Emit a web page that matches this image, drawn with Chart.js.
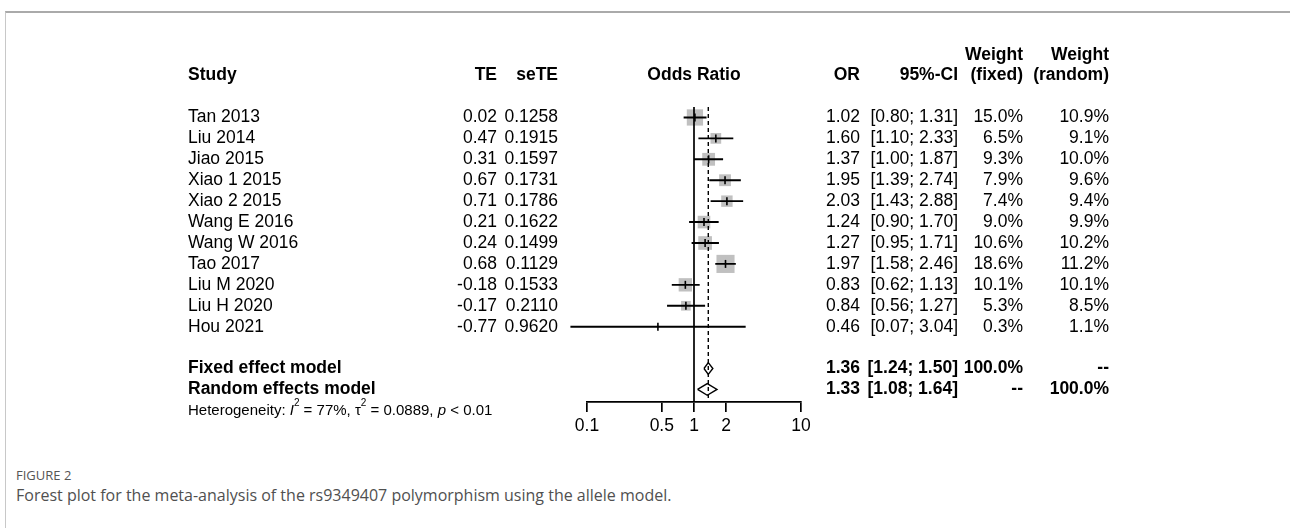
<!DOCTYPE html>
<html>
<head>
<meta charset="utf-8">
<script src="https://cdn.jsdelivr.net/npm/chart.js@4.4.0/dist/chart.umd.min.js"></script>
<style>
  html, body { margin: 0; padding: 0; background: #fff; }
  #page { position: relative; width: 1290px; height: 528px; overflow: hidden; }
  #frame { position: absolute; left: 5px; top: 11px; right: 0; bottom: 0; border-top: 2px solid #aaa; border-left: 1px solid #c8c8c8; }
  #plotBox { position: absolute; left: 0; top: 0; width: 1290px; height: 460px; }
  #figLabel { position: absolute; left: 16px; top: 466px; font: 13px "Open Sans", Lato, sans-serif; color: #555; }
  #caption { position: absolute; left: 16px; top: 484px; font: 16px "Open Sans", Lato, sans-serif; color: #505050; }
</style>
</head>
<body>
<div id="page">
  <div id="frame"></div>
  <div id="plotBox"><canvas id="forest"></canvas></div>
  <div id="figLabel">FIGURE 2</div>
  <div id="caption">Forest plot for the meta-analysis of the rs9349407 polymorphism using the allele model.</div>
</div>
<script>
// study data
const studies = ['Tan 2013', 'Liu 2014', 'Jiao 2015', 'Xiao 1 2015', 'Xiao 2 2015', 'Wang E 2016',
                 'Wang W 2016', 'Tao 2017', 'Liu M 2020', 'Liu H 2020', 'Hou 2021'];
const te = [0.02, 0.47, 0.31, 0.67, 0.71, 0.21, 0.24, 0.68, -0.18, -0.17, -0.77];
const seTE = [0.1258, 0.1915, 0.1597, 0.1731, 0.1786, 0.1622, 0.1499, 0.1129, 0.1533, 0.2110, 0.9620];
const oddsRatio = [1.02, 1.60, 1.37, 1.95, 2.03, 1.24, 1.27, 1.97, 0.83, 0.84, 0.46];
const ciLower = [0.80, 1.10, 1.00, 1.39, 1.43, 0.90, 0.95, 1.58, 0.62, 0.56, 0.07];
const ciUpper = [1.31, 2.33, 1.87, 2.74, 2.88, 1.70, 1.71, 2.46, 1.13, 1.27, 3.04];
const weightFixed = [15.0, 6.5, 9.3, 7.9, 7.4, 9.0, 10.6, 18.6, 10.1, 5.3, 0.3];
const weightRandom = [10.9, 9.1, 10.0, 9.6, 9.4, 9.9, 10.2, 11.2, 10.1, 8.5, 1.1];

// pooled models
const models = ['Fixed effect model', 'Random effects model'];
const modelOR = [1.36, 1.33];
const modelLower = [1.24, 1.08];
const modelUpper = [1.50, 1.64];
const modelWeightFixed = ['100.0%', '--'];
const modelWeightRandom = ['--', '100.0%'];

const tickValues = [0.1, 0.5, 1, 2, 10];
const tickLabels = ['0.1', '0.5', '1', '2', '10'];
const hetI2 = '77%';
const hetTau2 = '0.0889';
const hetP = '< 0.01';

// row positions on the y scale (1 = first study)
const studyRow = studies.map((s, i) => i + 1);
const modelRow = [studies.length + 2, studies.length + 3];
const rowTop = 0.5, rowBottom = 14.6;

const FONT = '"Liberation Sans", Arial, sans-serif';
const FS = 17.5;

// columns (pixel x, text alignment)
const col = { study: 188, te: 497, se: 558, plotMid: 694, or: 860, ci: 958, wf: 1023, wr: 1109 };

function fmtCI(lo, hi) {
  return '[' + lo.toFixed(2) + '; ' + hi.toFixed(2) + ']';
}

// CI segments separated by gaps
const ciData = [];
studies.forEach(function(s, i) {
  ciData.push({x: ciLower[i], y: studyRow[i]}, {x: ciUpper[i], y: studyRow[i]}, {x: null, y: null});
});

function diamond(k) {
  const h = 0.28;
  const r = modelRow[k];
  return [
    {x: modelLower[k], y: r}, {x: modelOR[k], y: r - h},
    {x: modelUpper[k], y: r}, {x: modelOR[k], y: r + h},
    {x: modelLower[k], y: r}
  ];
}

const textPlugin = {
  id: 'forestText',
  afterDraw(chart) {
    const ctx = chart.ctx;
    const yS = chart.scales.y;
    const rowY = r => yS.getPixelForValue(r);
    ctx.save();
    ctx.fillStyle = '#000';
    ctx.textBaseline = 'middle';

    function put(txt, x, y, align, bold) {
      ctx.font = (bold ? 'bold ' : '') + FS + 'px ' + FONT;
      ctx.textAlign = align;
      ctx.fillText(txt, x, y);
    }

    // headers
    const h1 = rowY(-2), h2 = rowY(-1);
    put('Weight', col.wf, h1, 'right', true);
    put('Weight', col.wr, h1, 'right', true);
    put('Study', col.study, h2, 'left', true);
    put('TE', col.te, h2, 'right', true);
    put('seTE', col.se, h2, 'right', true);
    put('Odds Ratio', col.plotMid, h2, 'center', true);
    put('OR', col.or, h2, 'right', true);
    put('95%-CI', col.ci, h2, 'right', true);
    put('(fixed)', col.wf, h2, 'right', true);
    put('(random)', col.wr, h2, 'right', true);

    // study rows
    studies.forEach(function(s, i) {
      const y = rowY(studyRow[i]);
      put(s, col.study, y, 'left', false);
      put(te[i].toFixed(2), col.te, y, 'right', false);
      put(seTE[i].toFixed(4), col.se, y, 'right', false);
      put(oddsRatio[i].toFixed(2), col.or, y, 'right', false);
      put(fmtCI(ciLower[i], ciUpper[i]), col.ci, y, 'right', false);
      put(weightFixed[i].toFixed(1) + '%', col.wf, y, 'right', false);
      put(weightRandom[i].toFixed(1) + '%', col.wr, y, 'right', false);
    });

    // model rows
    models.forEach(function(m, k) {
      const y = rowY(modelRow[k]);
      put(m, col.study, y, 'left', true);
      put(modelOR[k].toFixed(2), col.or, y, 'right', true);
      put(fmtCI(modelLower[k], modelUpper[k]), col.ci, y, 'right', true);
      put(modelWeightFixed[k], col.wf, y, 'right', true);
      put(modelWeightRandom[k], col.wr, y, 'right', true);
    });

    // heterogeneity line with superscripts
    const hy = rowY(modelRow[1] + 1);
    const hs = 15;
    let x = col.study;
    ctx.textAlign = 'left';
    function seg(txt, style, size, dy) {
      ctx.font = style + size + 'px ' + FONT;
      ctx.fillText(txt, x, hy + (dy || 0));
      x += ctx.measureText(txt).width;
    }
    seg('Heterogeneity: ', '', hs);
    seg('I', 'italic ', hs);
    seg('2', '', 10, -7);
    seg(' = ' + hetI2 + ', ', '', hs);
    seg('\u03c4', '', hs);
    seg('2', '', 10, -7);
    seg(' = ' + hetTau2 + ', ', '', hs);
    seg('p', 'italic ', hs);
    seg(' ' + hetP, '', hs);
    ctx.restore();
  }
};

const ctx = document.getElementById('forest').getContext('2d');
const chart = new Chart(ctx, {
  type: 'scatter',
  data: {
    datasets: [
      {
        // estimate marks
        type: 'scatter',
        data: oddsRatio.map((v, i) => ({x: v, y: studyRow[i]})),
        pointStyle: 'line',
        rotation: 90,
        pointRadius: 4,
        borderColor: '#000',
        borderWidth: 1.6,
        order: 1
      },
      {
        type: 'line',
        data: diamond(0),
        borderColor: '#000',
        borderWidth: 1.4,
        pointRadius: 0,
        fill: false,
        order: 2
      },
      {
        type: 'line',
        data: diamond(1),
        borderColor: '#000',
        borderWidth: 1.4,
        pointRadius: 0,
        fill: false,
        order: 2
      },
      {
        // confidence intervals
        type: 'line',
        data: ciData,
        borderColor: '#000',
        borderWidth: 1.9,
        pointRadius: 0,
        spanGaps: false,
        clip: false,
        order: 3
      },
      {
        // fixed effect estimate
        type: 'line',
        data: [{x: modelOR[0], y: rowTop}, {x: modelOR[0], y: rowBottom}],
        borderColor: '#000',
        borderWidth: 1.4,
        borderDash: [4, 3],
        pointRadius: 0,
        order: 4
      },
      {
        // line of no effect
        type: 'line',
        data: [{x: 1, y: rowTop}, {x: 1, y: rowBottom}],
        borderColor: '#000',
        borderWidth: 1.7,
        pointRadius: 0,
        order: 4
      },
      {
        // weight boxes
        type: 'scatter',
        data: oddsRatio.map((v, i) => ({x: v, y: studyRow[i]})),
        pointStyle: 'rect',
        pointRadius: weightFixed.map(w => 4.2 * Math.sqrt(w) / Math.SQRT2),
        backgroundColor: '#c0c0c0',
        borderWidth: 0,
        order: 6
      }
    ]
  },
  options: {
    responsive: true,
    maintainAspectRatio: false,
    animation: false,
    devicePixelRatio: 1,
    layout: { padding: { left: 587, right: 489, top: 107, bottom: 18 } },
    plugins: { legend: { display: false }, tooltip: { enabled: false } },
    events: [],
    scales: {
      x: {
        type: 'logarithmic',
        min: 0.1,
        max: 10,
        afterBuildTicks: function(scale) {
          scale.ticks = tickValues.map(v => ({value: v}));
        },
        afterFit: function(scale) { scale.height = 40; },
        ticks: {
          autoSkip: false,
          maxRotation: 0,
          color: '#000',
          padding: 4,
          font: { family: FONT, size: FS },
          callback: function(v) {
            const k = tickValues.indexOf(v);
            return k >= 0 ? tickLabels[k] : '';
          }
        },
        grid: { drawOnChartArea: false, drawTicks: true, tickLength: 10, color: '#000', lineWidth: 1.7 },
        border: { display: true, color: '#000', width: 1.7 }
      },
      y: {
        type: 'linear',
        display: false,
        reverse: true,
        min: rowTop,
        max: rowBottom
      }
    }
  },
  plugins: [textPlugin]
});
</script>
</body>
</html>
